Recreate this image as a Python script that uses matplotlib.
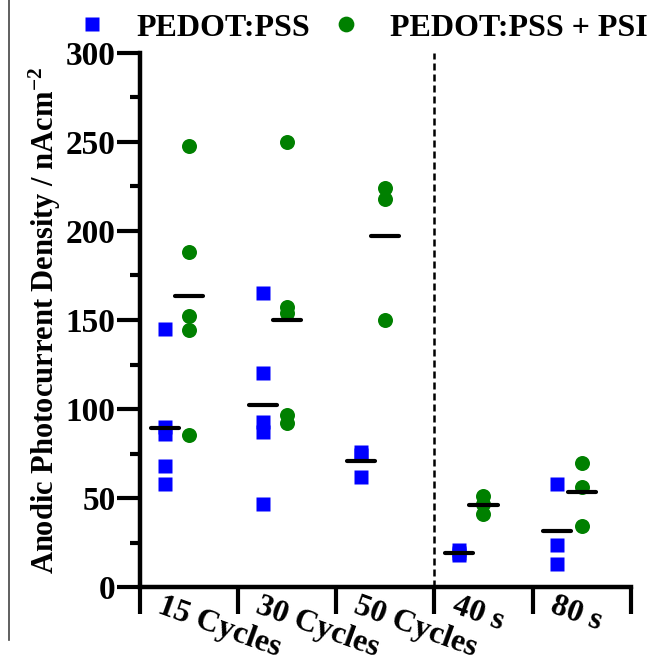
import matplotlib
matplotlib.use('Agg')
import matplotlib.pyplot as plt
import matplotlib.transforms as mtransforms
from matplotlib.lines import Line2D
import numpy as np

plt.rcParams['font.family'] = ['Liberation Serif', 'DejaVu Serif']
plt.rcParams['font.weight'] = 'bold'
plt.rcParams['mathtext.fontset'] = 'custom'
plt.rcParams['mathtext.rm'] = 'Liberation Serif:bold'
plt.rcParams['mathtext.default'] = 'rm'

# data
groups = ['15 Cycles', '30 Cycles', '50 Cycles', '40 s', '80 s']
pss = [[145, 90, 86, 68, 58],
       [165, 120, 93, 87, 47],
       [76, 74, 62],
       [21, 19, 18],
       [58, 24, 13]]
psi = [[247.5, 188, 152, 144.5, 85.5],
       [250, 157.5, 154, 96.5, 92],
       [224, 218, 150],
       [51.5, 46.5, 41],
       [69.5, 56.5, 34.5]]

fig = plt.figure(figsize=(6.54, 6.55), dpi=100)
ax = fig.add_axes([140/654, 1-587.3/655, 490.7/654, 534.6/655])

half = 0.143
for i in range(len(groups)):
    xb = i + 0.25
    xg = i + 0.5
    ax.plot([xb]*len(pss[i]), pss[i], 's', color='#0000ff', ms=9.6, mec='none',
            zorder=3, label='PEDOT:PSS' if i == 0 else None)
    ax.plot([xg]*len(psi[i]), psi[i], 'o', color='#008000', ms=10.8, mec='none',
            zorder=3, label='PEDOT:PSS + PSI' if i == 0 else None)
    mb = np.mean(pss[i])
    mg = np.mean(psi[i])
    ax.plot([xb-half, xb+half], [mb, mb], color='k', lw=3, solid_capstyle='round', zorder=4)
    ax.plot([xg-half, xg+half], [mg, mg], color='k', lw=3, solid_capstyle='round', zorder=4)

# split between the two sets of samples
ax.axvline(3, color='k', lw=1.8, linestyle=(0, (2.8, 1.6)), zorder=1)

ax.set_xlim(0, 5)
ax.set_ylim(0, 300)
ax.spines['top'].set_visible(False)
ax.spines['right'].set_visible(False)
ax.spines['left'].set_linewidth(3.2)
ax.spines['bottom'].set_linewidth(3.2)
ax.spines['left'].set_capstyle('projecting')
ax.spines['bottom'].set_capstyle('projecting')

ax.set_yticks(np.arange(0, 301, 50))
ax.set_yticks(np.arange(0, 301, 25), minor=True)
ax.tick_params(axis='y', which='major', direction='out', length=16.5, width=3, pad=1, labelsize=24)
ax.tick_params(axis='y', which='minor', direction='out', length=7, width=3)
ax.set_xticks(np.arange(0, 6))
ax.set_xticklabels([])
ax.tick_params(axis='x', which='major', direction='out', length=19.5, width=3)

for lab in ax.get_yticklabels():
    lab.set_fontweight('bold')

# rotated group labels next to the ticks
for i, g in enumerate(groups):
    tr = mtransforms.offset_copy(ax.get_xaxis_transform(), fig=fig, x=17, y=-3, units='points')
    ax.text(i, 0, g, transform=tr, rotation=-20, rotation_mode='anchor',
            ha='left', va='top', fontsize=23, fontweight='bold')

ax.set_ylabel('Anodic Photocurrent Density / nAcm$^{-2}$', fontsize=22, fontweight='bold')
ax.yaxis.set_label_coords(-0.157, 0.5)

fig.legend(loc='center left', bbox_to_anchor=(76/654, 1-28/655), ncol=2, frameon=False,
           fontsize=23, handlelength=1, handletextpad=0.9, columnspacing=0.6,
           borderpad=0, borderaxespad=0, markerscale=1.05)

fig.add_artist(Line2D([9/654, 9/654], [1-640/655, 1], color='#444444', lw=1.2))

fig.savefig('out.png', dpi=100)
